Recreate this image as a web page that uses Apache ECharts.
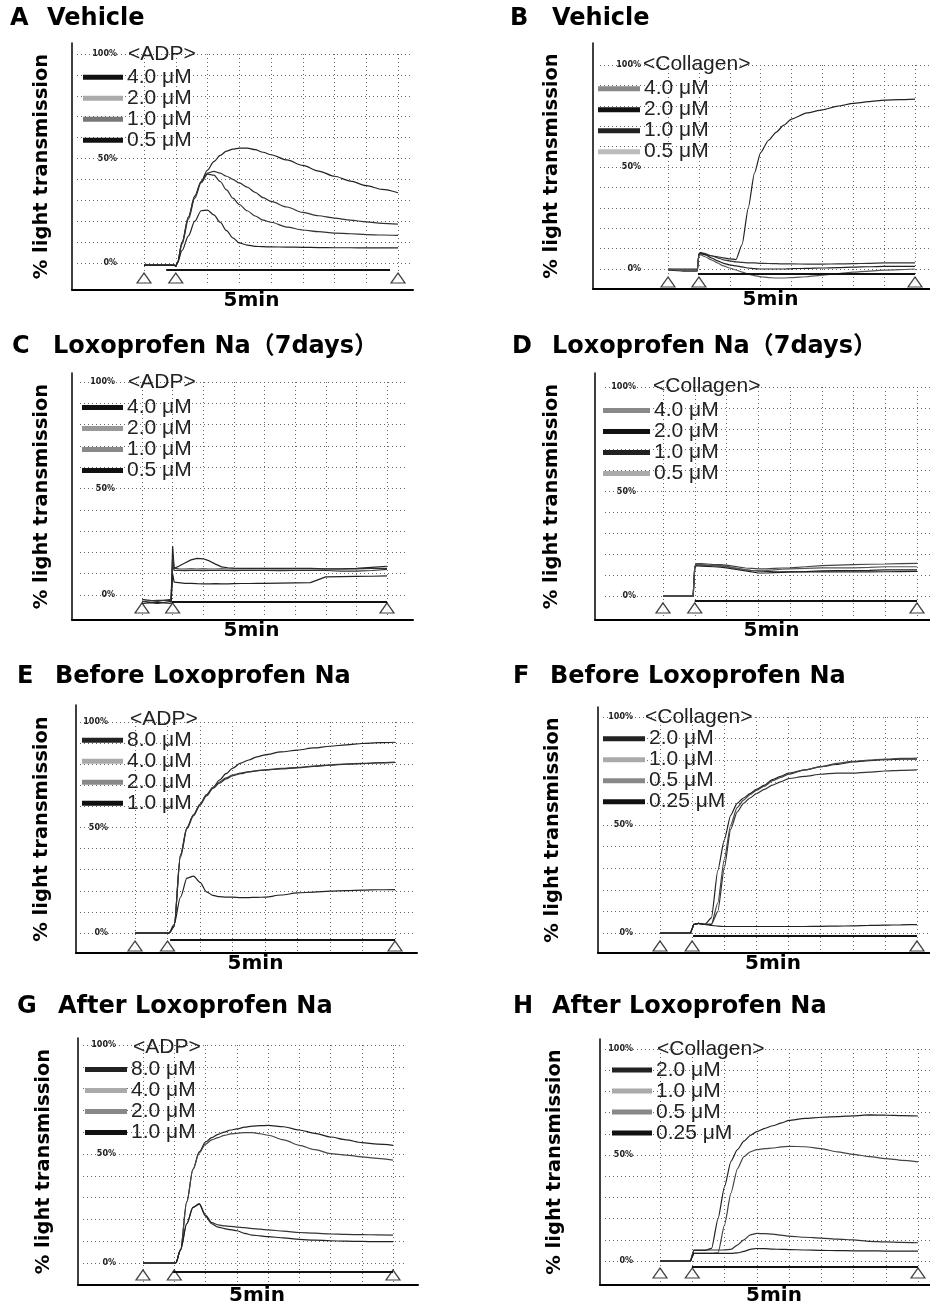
<!DOCTYPE html>
<html>
<head>
<meta charset="utf-8">
<script src="https://cdn.jsdelivr.net/npm/echarts@6/dist/echarts.min.js"></script>
<style>
body{margin:0;background:#fff;}
#page{position:relative;width:930px;height:1310px;overflow:hidden;}
.panel{position:absolute;}
</style>
</head>
<body>
<div id="page">
  <div id="pA" class="panel"></div>
  <div id="pB" class="panel"></div>
  <div id="pC" class="panel"></div>
  <div id="pD" class="panel"></div>
  <div id="pE" class="panel"></div>
  <div id="pF" class="panel"></div>
  <div id="pG" class="panel"></div>
  <div id="pH" class="panel"></div>
</div>
<script>
// sample times in grid units (0 = first mark, 1 = agonist added, 8 = end of 5min bar)
const T = [0, 0.5, 0.95, 1.0, 1.05, 1.2, 1.4, 1.6, 1.8, 2.0, 2.2, 2.4, 2.6, 2.8, 3.0, 3.25, 3.5, 3.75, 4.0, 4.5, 5.0, 5.5, 6.0, 6.5, 7.0, 7.5, 8.0];
const eventTimes = [0, 1, 8];
const pctLabels = [0, 50, 100];

const adpDoses1 = ['4.0 μM', '2.0 μM', '1.0 μM', '0.5 μM'];
const adpDoses2 = ['8.0 μM', '4.0 μM', '2.0 μM', '1.0 μM'];
const colDoses1 = ['4.0 μM', '2.0 μM', '1.0 μM', '0.5 μM'];
const colDoses2 = ['2.0 μM', '1.0 μM', '0.5 μM', '0.25 μM'];

// A vehicle, ADP
const A_40 = [-1, -1, -1, -1.5, 0, 10, 22, 32, 39, 44.5, 48.5, 51.5, 53.5, 54.5, 55, 55, 54.2, 53, 51.8, 49.3, 46.7, 44, 41.5, 39.2, 37, 35.2, 33.6];
const A_20 = [-1, -1, -1, -1.5, 0, 10, 22, 32, 39, 43, 43.8, 43, 41.5, 40, 38.3, 36.3, 33.8, 31.3, 29.5, 26.8, 24.2, 22.6, 21.5, 20.5, 19.7, 19, 18.6];
const A_10 = [-1, -1, -1, -1.5, 0, 9, 21, 31, 38.5, 42.5, 42, 39, 35, 31, 28, 25, 22.5, 20.5, 19.5, 17.2, 15.8, 15, 14.3, 14, 13.6, 13.4, 13.2];
const A_05 = [-1, -1, -1, -1.5, 0, 6, 13, 20, 25, 25.3, 23, 19.5, 15.5, 12, 9.6, 8.6, 8, 7.8, 7.7, 7.6, 7.5, 7.4, 7.3, 7.3, 7.2, 7.2, 7.2];
// B vehicle, collagen
const B_40 = [-0.5, -1, -1, 7, 7.5, 7, 6.5, 6, 5.5, 5, 4.6, 12, 30, 47, 57, 63, 67, 70.5, 73.5, 76.5, 78, 79.8, 81.2, 82, 82.8, 83, 83.3];
const B_20 = [-0.5, -0.5, -0.5, 7, 8, 7.5, 6.5, 5.5, 4.5, 4, 3.5, 3.2, 3, 3, 2.8, 2.7, 2.6, 2.5, 2.5, 2.4, 2.4, 2.5, 2.6, 2.8, 3, 3, 3];
const B_10 = [0, 0, 0, 7.5, 8, 7, 5.5, 4, 2.8, 2, 1.5, 1, 0.5, 0.2, 0, 0, 0, 0, 0.2, 0.3, 0.5, 0.7, 0.9, 1.1, 1.3, 1.3, 1.3];
const B_05 = [0, -0.5, -0.5, 6.5, 7, 6, 4.5, 3, 1.5, 0.5, -0.5, -1.5, -2.5, -3.2, -3.8, -4.2, -4.4, -4.4, -4.2, -3.8, -3, -2.2, -1.5, -1, -0.6, -0.3, 0];
// C loxoprofen 7 days, ADP
const C_40 = [-3, -4, -3, 23, 12.5, 13.5, 15, 16.5, 17.2, 17, 16, 14.5, 13.2, 12.8, 12.6, 12.5, 12.5, 12.5, 12.5, 12.5, 12.5, 12.5, 12.3, 12.3, 12.5, 13, 13.5];
const C_20 = [-3, -2.5, -2.5, 18, 12.5, 12.3, 12.2, 12.3, 12.2, 12.3, 12.2, 12.2, 12.3, 12.2, 12.3, 12.3, 12.2, 12.3, 12.2, 12.2, 12.3, 12.2, 12.2, 12.2, 12.3, 12.5, 12.5];
const C_10 = [-2, -3, -2, 14, 11.5, 11.5, 11.4, 11.5, 11.5, 11.4, 11.5, 11.5, 11.5, 11.5, 11.4, 11.5, 11.5, 11.5, 11.5, 11.4, 11.5, 11.5, 11.5, 11.2, 11.2, 11.5, 12];
const C_05 = [-4, -3.5, -4, 10, 6, 5.8, 5.5, 5.5, 5.3, 5.2, 5.2, 5.3, 5.2, 5.2, 5.3, 5.4, 5.4, 5.5, 5.5, 5.6, 5.7, 5.8, 8.5, 8.6, 8.7, 8.8, 9];
// D loxoprofen 7 days, collagen
const D_40 = [0, 0, 0, 14, 15.5, 15.5, 15.3, 15, 15, 14.8, 14.3, 13.8, 13.4, 13.2, 13, 13, 13.2, 13.4, 13.5, 14, 14.5, 14.8, 15, 15.2, 15.3, 15.5, 15.6];
const D_20 = [0, 0, 0, 14, 15, 14.8, 14.6, 14.5, 14.4, 14.2, 13.5, 13, 12.5, 12.2, 12, 11.8, 11.6, 11.5, 11.5, 11.7, 12, 12.1, 12.2, 12.3, 12.5, 12.5, 12.5];
const D_10 = [0, 0, 0, 13.5, 14.5, 14.3, 14.2, 14, 13.8, 13.5, 13, 12.5, 12, 11.5, 11, 11, 11.2, 11.3, 11.5, 11.5, 11.5, 11.5, 11.5, 11.5, 11.6, 11.7, 11.8];
const D_05 = [0, 0, 0, 14, 15, 15, 14.8, 14.6, 14.4, 14, 13.5, 13, 12.5, 12.2, 12, 12.2, 12.5, 12.8, 13, 13.2, 13.5, 13.5, 13.5, 13.7, 14, 14, 14];
// E before, ADP
const E_80 = [0, 0, 0, 0, 0, 3, 37, 50, 56, 61, 65.5, 69, 72.5, 75.5, 78, 80.5, 82, 83.5, 84.4, 85.8, 86.7, 87.7, 88.5, 89.2, 89.8, 90.2, 90.4];
const E_40 = [0, 0, 0, 0, 0, 3, 37, 50, 56, 61, 65.5, 69, 71.5, 73.5, 74.9, 75.8, 76.5, 77, 77.3, 78, 78.5, 79.1, 79.7, 80.1, 80.4, 80.7, 81];
const E_20 = [0, 0, 0, 0, 0, 3, 36, 49.5, 55.5, 60.5, 65, 68.5, 71, 73, 74.5, 75.5, 76.3, 76.8, 77.2, 77.8, 78.3, 79, 79.5, 80, 80.3, 80.6, 80.8];
const E_10 = [0, 0, 0, 0, 0, 4, 17, 26, 27, 24, 19.5, 17.8, 17.2, 17, 17, 16.8, 16.8, 16.9, 17, 18, 19, 19.4, 19.8, 20.1, 20.3, 20.5, 20.6];
// F before, collagen
const F_20 = [0, 0, 0, 2, 4, 4.5, 4, 7, 29, 43, 54.5, 60, 62.5, 64.5, 66.5, 68.5, 71, 72.5, 74, 75.5, 77, 78, 79.2, 79.8, 80.2, 80.5, 80.5];
const F_10 = [0, 0, 0, 2, 4, 4.5, 4, 4, 14, 34, 50, 58, 61.5, 64, 66, 68, 70.5, 72, 73.5, 75.5, 77, 78.5, 79.5, 80, 80.5, 80.8, 81];
const F_05 = [0, 0, 0, 2, 4, 4.5, 4, 4, 10, 30, 48, 56, 60, 62.5, 64.5, 66.5, 68.5, 70, 71.5, 72.5, 73.5, 74, 74, 74.5, 75, 75.3, 75.5];
const F_025 = [0, 0, 0, 2, 4, 4.5, 4, 3.5, 3.2, 3, 3, 3, 3, 3, 3, 3, 3, 3, 3, 3, 3.1, 3.2, 3.3, 3.5, 3.6, 3.8, 3.9];
// G after, ADP
const G_80 = [0, 0, 0, 0, 0, 6, 28, 43, 51, 55.5, 57.5, 59, 60, 61, 61.5, 62.3, 62.8, 63, 63.1, 62.5, 61, 59.5, 57.8, 56.5, 55.2, 54.5, 54];
const G_40 = [0, 0, 0, 0, 0, 6, 28, 43, 50.5, 54.5, 56.5, 57.5, 58.5, 59.2, 59.5, 59.8, 59.8, 59.3, 58.6, 56.5, 54, 52, 50.2, 49.5, 48.7, 48, 47.2];
const G_20 = [0, 0, 0, 0, 0, 6, 18, 25.5, 27.3, 22, 18.5, 17.5, 17, 16.8, 16.5, 16.2, 15.8, 15.5, 15.2, 14.6, 14, 13.7, 13.3, 13.1, 13, 12.9, 12.8];
const G_10 = [0, 0, 0, 0, 0, 6, 18, 25.5, 27, 21.5, 18, 16.5, 15.8, 15.3, 14.8, 13.6, 12.8, 12.4, 12.1, 11.5, 10.8, 10.5, 10.2, 10, 9.9, 9.8, 9.8];
// H after, collagen
const H_20 = [0, 0, 0, 3, 5, 5, 5, 6, 20, 35, 47, 52.5, 56.5, 59.2, 61, 62.6, 63.8, 65, 66.3, 67.3, 67.8, 68.1, 68.5, 68.9, 68.8, 68.6, 68.4];
const H_10 = [0, 0, 0, 2, 3.6, 3.6, 3.6, 3.6, 3.8, 17, 32, 43.5, 49.2, 51.5, 52.5, 53, 53.3, 53.8, 54.1, 53.9, 53, 51.5, 50.3, 49.2, 48.3, 47.5, 46.8];
const H_05 = [0, 0, 0, 3, 5.2, 5.2, 5.2, 5.2, 5.2, 5.2, 5.5, 7.5, 10, 12.3, 13, 12.9, 12.7, 12.2, 11.7, 11.2, 10.8, 10.3, 10, 9.3, 9, 8.8, 8.6];
const H_025 = [0, 0, 0, 2, 3.6, 3.6, 3.6, 3.6, 3.6, 3.6, 3.6, 3.8, 4.5, 5.5, 5.9, 5.8, 5.6, 5.5, 5.4, 5.2, 5, 4.9, 4.8, 4.8, 4.7, 4.7, 4.7];

// layout (page pixels)
const panels = [
  {id:'pA', box:[0,0,465,328], letter:'A', title:'Vehicle', agonist:'<ADP>', doses:adpDoses1, vals:[A_40,A_20,A_10,A_05], smooth:0.3,
   legendColors:['#111','#aaa','#777','#111'], lineColors:['#222','#333','#333','#222'],
   frame:[72,43,413,290], x0:144, x8:398, y0:263, y100:54, hLeft:77, hRight:410,
   letterPos:[10,20], titlePos:[47,20], headPos:[128,55], legend:[83,40,77,20.3], ylabX:42, bar:[0.7,7.75,-3.3], triY:-7.2},
  {id:'pB', box:[465,0,465,328], letter:'B', title:'Vehicle', agonist:'<Collagen>', doses:colDoses1, vals:[B_40,B_20,B_10,B_05], smooth:0.2,
   legendColors:['#888','#111','#222','#bbb'], lineColors:['#222','#333','#222','#555'],
   frame:[593,43,930,289], x0:668, x8:915, y0:269, y100:65, hLeft:600, hRight:930,
   letterPos:[510,20], titlePos:[552,20], headPos:[643,65], legend:[598,42,88,19.7], ylabX:552, bar:[0.97,8,-2.5], triY:-6.4},
  {id:'pC', box:[0,328,465,330], letter:'C', title:'Loxoprofen Na（7days）', agonist:'<ADP>', doses:adpDoses1, vals:[C_40,C_20,C_10,C_05], smooth:false,
   legendColors:['#111','#999','#888','#111'], lineColors:['#222','#333','#333','#222'],
   frame:[72,373,413,620], x0:142, x8:387, y0:595, y100:382, hLeft:80, hRight:405,
   letterPos:[12,348], titlePos:[53,348], headPos:[128,383], legend:[82,41,407,20], ylabX:42, bar:[0.98,8,-3.3], triY:-6.1},
  {id:'pD', box:[465,328,465,330], letter:'D', title:'Loxoprofen Na（7days）', agonist:'<Collagen>', doses:colDoses1, vals:[D_40,D_20,D_10,D_05], smooth:false,
   legendColors:['#888','#111','#222','#aaa'], lineColors:['#444','#222','#222','#555'],
   frame:[595,373,930,620], x0:663, x8:917, y0:596, y100:387, hLeft:605, hRight:930,
   letterPos:[512,348], titlePos:[552,348], headPos:[653,387], legend:[603,47,410,20], ylabX:552, bar:[1.0,8,-2.4], triY:-5.7},
  {id:'pE', box:[0,658,465,330], letter:'E', title:'Before Loxoprofen Na', agonist:'<ADP>', doses:adpDoses2, vals:[E_80,E_40,E_20,E_10], smooth:0.3,
   legendColors:['#222','#aaa','#888','#111'], lineColors:['#222','#444','#333','#222'],
   frame:[76,705,417,953], x0:135, x8:395, y0:933, y100:722, hLeft:80, hRight:415,
   letterPos:[17,678], titlePos:[55,678], headPos:[130,720], legend:[82,41,740,20.7], ylabX:42, bar:[1.08,8,-3.3], triY:-6.2},
  {id:'pF', box:[465,658,465,330], letter:'F', title:'Before Loxoprofen Na', agonist:'<Collagen>', doses:colDoses2, vals:[F_20,F_10,F_05,F_025], smooth:0.2,
   legendColors:['#222','#aaa','#888','#111'], lineColors:['#222','#444','#333','#222'],
   frame:[598,707,930,953], x0:660, x8:917, y0:933, y100:717, hLeft:603, hRight:930,
   letterPos:[513,678], titlePos:[550,678], headPos:[645,718], legend:[603,42,738,19.7], ylabX:553, bar:[1.03,8,-1.4], triY:-6},
  {id:'pG', box:[0,988,465,322], letter:'G', title:'After Loxoprofen Na', agonist:'<ADP>', doses:adpDoses2, vals:[G_80,G_40,G_20,G_10], smooth:0.3,
   legendColors:['#222','#aaa','#888','#111'], lineColors:['#222','#444','#333','#222'],
   frame:[78,1038,418,1285], x0:143, x8:393, y0:1263, y100:1045, hLeft:83, hRight:405,
   letterPos:[17,1008], titlePos:[58,1008], headPos:[133,1048], legend:[85,42,1069,20], ylabX:44, bar:[0.96,8,-4.1], triY:-5.5},
  {id:'pH', box:[465,988,465,322], letter:'H', title:'After Loxoprofen Na', agonist:'<Collagen>', doses:colDoses2, vals:[H_20,H_10,H_05,H_025], smooth:0.2,
   legendColors:['#222','#aaa','#888','#111'], lineColors:['#222','#444','#333','#222'],
   frame:[600,1039,930,1285], x0:660, x8:918, y0:1261, y100:1049, hLeft:605, hRight:930,
   letterPos:[513,1008], titlePos:[552,1008], headPos:[657,1050], legend:[612,40,1070,21], ylabX:555, bar:[0.99,8,-2.8], triY:-5.7}
];

const gridLine = {color:'#666', width:1, type:[1,3]};
const titleFont = "'DejaVu Sans', 'Noto Sans CJK JP', sans-serif";
const textFont = "'Liberation Sans', Arial, sans-serif";

function drawPanel(p) {
  const [bx, by, bw, bh] = p.box;
  const el = document.getElementById(p.id);
  el.style.left = bx + 'px';
  el.style.top = by + 'px';
  el.style.width = bw + 'px';
  el.style.height = bh + 'px';
  const chart = echarts.init(el);

  const u = (p.x8 - p.x0) / 8;          // px per time unit
  const s = (p.y0 - p.y100) / 100;      // px per percent
  const xMax = (p.hRight - p.x0) / u;
  const [fl, ft, fr, fb] = p.frame;
  const [lgLeft, lgW, lgRow1, lgRow] = p.legend;

  const series = p.doses.map((d, i) => ({
    type: 'line', name: d, xAxisIndex: 2, yAxisIndex: 2,
    data: T.map((t, k) => [t, p.vals[i][k]]),
    symbol: 'none', silent: true, z: 3,
    smooth: p.smooth, smoothMonotone: 'x',
    lineStyle: {color: p.lineColors[i], width: 1.2},
    itemStyle: {color: p.legendColors[i]}
  }));
  // agonist / event marks under the traces
  series.push({
    type: 'scatter', xAxisIndex: 2, yAxisIndex: 2, silent: true,
    data: eventTimes.map(t => [t, p.triY]),
    symbol: 'triangle', symbolSize: [14, 10],
    itemStyle: {color: '#fff', borderColor: '#111', borderWidth: 1.2}
  });
  series.push({
    type: 'line', xAxisIndex: 2, yAxisIndex: 2, silent: true,
    data: [[p.bar[0], p.bar[2]], [p.bar[1], p.bar[2]]],
    symbol: 'none', lineStyle: {color: '#111', width: 2}
  });

  const option = {
    animation: false,
    title: [
      {text: p.letter, left: p.letterPos[0] - bx, top: p.letterPos[1] - by - 13, padding: 0,
       textStyle: {fontFamily: titleFont, fontWeight: 'bold', fontSize: 24, color: '#000'}},
      {text: p.title, left: p.titlePos[0] - bx, top: p.titlePos[1] - by - 13, padding: 0,
       textStyle: {fontFamily: titleFont, fontWeight: 'bold', fontSize: 24, color: '#000'}},
      {text: p.agonist, left: p.headPos[0] - bx, top: p.headPos[1] - by - 11, padding: 0,
       textStyle: {fontFamily: textFont, fontWeight: 'normal', fontSize: 21, color: '#222'}}
    ],
    legend: {
      orient: 'vertical', left: lgLeft - bx, top: lgRow1 - lgRow / 2 - by, padding: 0,
      itemWidth: lgW, itemHeight: 5, itemGap: 0, icon: 'rect', selectedMode: false,
      data: p.doses.map((d, i) => ({name: d, itemStyle: {color: p.legendColors[i], borderWidth: 0}})),
      textStyle: {fontFamily: textFont, fontSize: 21, color: '#222', lineHeight: lgRow, padding: [0, 0, 0, -1]}
    },
    grid: [
      {left: fl - bx, top: ft - by, width: fr - fl, height: fb - ft, outerBoundsMode: 'none'},
      {left: p.hLeft - bx, top: p.y100 - by, width: p.hRight - p.hLeft, height: p.y0 - p.y100, outerBoundsMode: 'none'},
      {left: p.x0 - bx, top: p.y100 - by, width: p.hRight - p.x0, height: p.y0 - p.y100 + 10 * s, outerBoundsMode: 'none'}
    ],
    xAxis: [
      {gridIndex: 0, type: 'value', min: 0, max: 1,
       axisLine: {show: true, onZero: false, lineStyle: {color: '#000', width: 2}},
       axisTick: {show: false}, axisLabel: {show: false}, splitLine: {show: false},
       name: '5min', nameLocation: 'middle', nameGap: 1,
       nameTextStyle: {fontFamily: titleFont, fontSize: 20, fontWeight: 'bold', color: '#000', padding: [0, 0, 0, 18]}},
      {gridIndex: 1, type: 'value', min: 0, max: 1, show: false},
      {gridIndex: 2, type: 'value', min: 0, max: xMax, interval: 1,
       axisLine: {show: false}, axisTick: {show: false}, axisLabel: {show: false},
       splitLine: {show: true, showMaxLine: false, lineStyle: gridLine}}
    ],
    yAxis: [
      {gridIndex: 0, type: 'value', min: 0, max: 1,
       axisLine: {show: true, onZero: false, lineStyle: {color: '#000', width: 1.5}},
       axisTick: {show: false}, axisLabel: {show: false}, splitLine: {show: false},
       name: '% light transmission', nameLocation: 'middle', nameGap: fl - p.ylabX - 10,
       nameTextStyle: {fontFamily: titleFont, fontSize: 19.5, fontWeight: 'bold', color: '#000'}},
      {gridIndex: 1, type: 'value', min: 0, max: 100, interval: 10,
       axisLine: {show: false}, axisTick: {show: false}, axisLabel: {show: false},
       splitLine: {show: true, lineStyle: gridLine}},
      {gridIndex: 2, type: 'value', min: -10, max: 100, interval: 10,
       axisLine: {show: false}, axisTick: {show: false}, splitLine: {show: false},
       axisLabel: {show: true, margin: 27, fontFamily: titleFont, fontSize: 8, fontWeight: 'bold', color: '#222',
                   formatter: v => pctLabels.includes(v) ? v + '%' : ''}}
    ],
    series: series
  };
  chart.setOption(option);
}

panels.forEach(drawPanel);
</script>
</body>
</html>
